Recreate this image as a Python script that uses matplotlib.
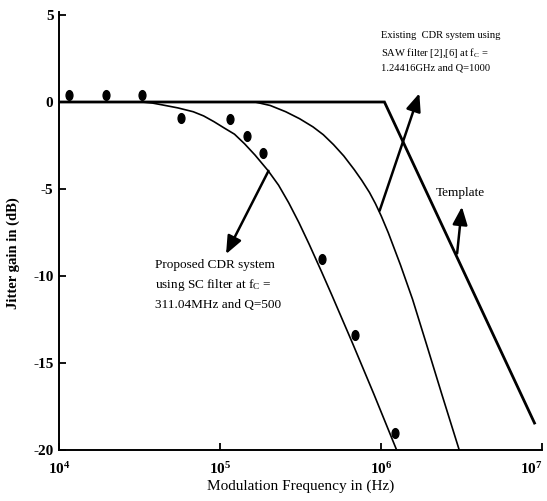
import matplotlib
matplotlib.use('Agg')
import matplotlib.pyplot as plt
from matplotlib.markers import MarkerStyle
from matplotlib.transforms import Affine2D

plt.rcParams['font.family'] = ['Liberation Serif', 'DejaVu Serif']
plt.rcParams['mathtext.fontset'] = 'custom'
plt.rcParams['mathtext.rm'] = 'Liberation Serif'
plt.rcParams['mathtext.it'] = 'Liberation Serif:italic'
plt.rcParams['mathtext.bf'] = 'Liberation Serif:bold'

# template mask (dB vs Hz)
tmpl_f = [1e4, 1.05e6, 8.98e6]
tmpl_db = [0, 0, -18.45]

# proposed CDR, SC filter (fc = 311.04 MHz, Q = 500)
prop_f = [1e4, 3.28e4, 3.80e4, 4.40e4, 5.48e4, 6.82e4, 7.91e4, 9.17e4,
          1.06e5, 1.23e5, 1.42e5, 1.65e5, 1.99e5, 2.31e5, 2.67e5, 3.09e5,
          3.58e5, 4.27e5, 4.95e5, 6.63e5, 9.02e5, 1.25e6]
prop_db = [0, 0, -0.06, -0.17, -0.34, -0.56, -0.80, -1.13,
           -1.49, -1.85, -2.40, -3.05, -3.95, -4.78, -5.79, -6.93,
           -8.18, -9.75, -11.10, -13.83, -16.78, -20.0]

# existing CDR, SAW filter (fc = 1.24416 GHz, Q = 1000)
exist_f = [1e4, 1.65e5, 2.05e5, 2.56e5, 3.12e5, 3.78e5, 4.38e5, 5.07e5,
           5.87e5, 6.81e5, 7.59e5, 8.48e5, 9.23e5, 1.004e6, 1.11e6, 1.32e6,
           1.57e6, 1.92e6, 2.39e6, 3.06e6]
exist_db = [0, 0, -0.20, -0.56, -0.96, -1.43, -1.88, -2.45,
            -3.10, -3.88, -4.50, -5.20, -5.84, -6.56, -7.52, -9.36,
            -11.34, -13.95, -16.82, -20.0]

# measured points
meas_f = [1.16e4, 1.96e4, 3.28e4, 5.7e4, 1.15e5, 1.48e5, 1.85e5,
          4.32e5, 6.9e5, 1.23e6]
meas_db = [0.43, 0.43, 0.43, -0.90, -1.0, -1.94, -2.91,
           -9.02, -13.4, -19.04]

xticks = [1e4, 1e5, 1e6, 1e7]
xticklabels = [r'$\mathbf{10^{4}}$', r'$\mathbf{10^{5}}$',
               r'$\mathbf{10^{6}}$', r'$\mathbf{10^{7}}$']
yticks = [5, 0, -5, -10, -15, -20]
yticklabels = ['5', '0', '-5', '-10', '-15', '-20']

fig = plt.figure(figsize=(5.47, 5.01), dpi=100)
ax = fig.add_axes([0.1079, 0.1018, 0.883, 0.8752])

ax.plot(tmpl_f, tmpl_db, color='black', lw=2.0, solid_joinstyle='miter')
ax.plot(prop_f, prop_db, color='black', lw=1.2)
ax.plot(exist_f, exist_db, color='black', lw=1.2)

dot = MarkerStyle('o', transform=Affine2D().scale(0.7, 1.0))
ax.plot(meas_f, meas_db, linestyle='none', marker=dot, markersize=7,
        color='black')

ax.set_xscale('log')
ax.set_xlim(1e4, 1e7)
ax.set_ylim(-20, 5.2)
ax.xaxis.set_minor_locator(matplotlib.ticker.NullLocator())
ax.set_xticks(xticks)
ax.set_xticklabels(xticklabels, fontsize=11)
ax.get_xticklabels()[-1].set_horizontalalignment('right')
ax.set_yticks(yticks)
ax.set_yticklabels(yticklabels, fontsize=11, fontweight='bold')
ax.tick_params(axis='x', direction='in', length=5, width=1.3, pad=8)
ax.tick_params(axis='y', direction='in', length=5, width=1.3, pad=4)

for s in ['top', 'right']:
    ax.spines[s].set_visible(False)
for s in ['left', 'bottom']:
    ax.spines[s].set_linewidth(1.4)

ax.set_xlabel('Modulation Frequency in (Hz)', fontsize=11, labelpad=2)
ax.set_ylabel('Jitter gain in (dB)', fontsize=10.5, fontweight='bold')
ax.yaxis.set_label_coords(-0.081, 0.449)

# annotations
arrow = dict(arrowstyle='-|>,head_length=0.6,head_width=0.25', color='black',
             lw=1.8, mutation_scale=18, shrinkA=0, shrinkB=0)
ax.annotate('', xy=(1.09e5, -8.74), xytext=(2.0e5, -3.96), arrowprops=arrow)
ax.annotate('', xy=(1.73e6, 0.5), xytext=(9.8e5, -6.25), arrowprops=arrow)
ax.annotate('', xy=(3.18e6, -6.02), xytext=(2.97e6, -8.7), arrowprops=arrow)

ax.text(1.0e6, 4.1, 'Existing  CDR system using\nSAW filter [2],[6] at f$_\\mathrm{C}$ =\n1.24416GHz and Q=1000',
        fontsize=7.6, va='top', ha='left', linespacing=1.6)
ax.text(3.97e4, -9.0, 'Proposed CDR system\nusing SC filter at f$_\\mathrm{C}$ =\n311.04MHz and Q=500',
        fontsize=9.5, va='top', ha='left', linespacing=1.6)
ax.text(2.2e6, -5.25, 'Template', fontsize=9.5, va='center', ha='left')

fig.savefig('out.png', dpi=100)
